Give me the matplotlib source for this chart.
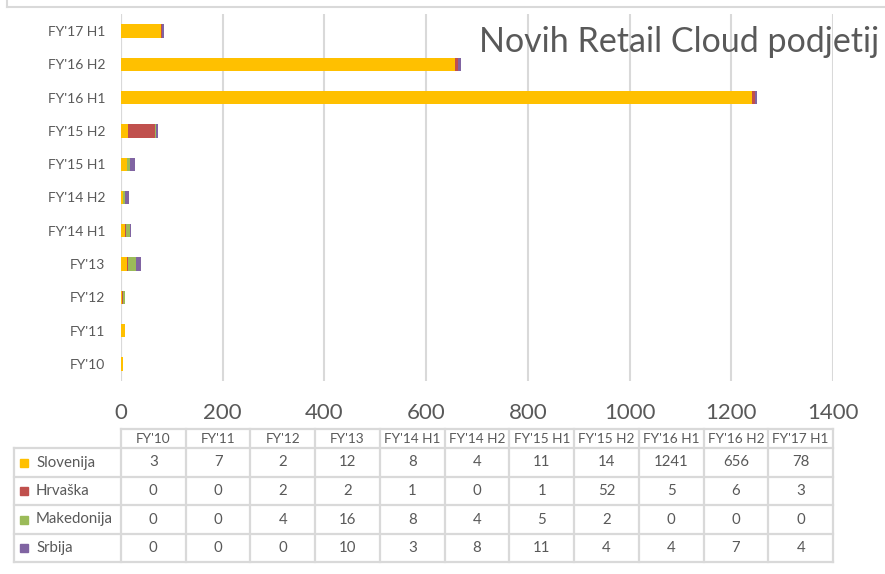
import matplotlib.pyplot as plt
import numpy as np
from matplotlib.patches import Rectangle
from matplotlib.lines import Line2D

plt.rcParams['font.family'] = ['Lato', 'DejaVu Sans']

periods = ["FY'10", "FY'11", "FY'12", "FY'13", "FY'14 H1", "FY'14 H2",
           "FY'15 H1", "FY'15 H2", "FY'16 H1", "FY'16 H2", "FY'17 H1"]
countries = ["Slovenija", "Hrvaška", "Makedonija", "Srbija"]
slovenija = [3, 7, 2, 12, 8, 4, 11, 14, 1241, 656, 78]
hrvaska = [0, 0, 2, 2, 1, 0, 1, 52, 5, 6, 3]
makedonija = [0, 0, 4, 16, 8, 4, 5, 2, 0, 0, 0]
srbija = [0, 0, 0, 10, 3, 8, 11, 4, 4, 7, 4]
colors = ["#FFC000", "#C0504D", "#9BBB59", "#8064A2"]
title = "Novih Retail Cloud podjetij"
xticks = [0, 200, 400, 600, 800, 1000, 1200, 1400]

W, H = 885, 574
txt = "#595959"
grid = "#D9D9D9"

fig = plt.figure(figsize=(W / 100, H / 100), dpi=100)

def px(x0, y0, x1, y1):
    return [x0 / W, 1 - y1 / H, (x1 - x0) / W, (y1 - y0) / H]

ax = fig.add_axes(px(121, 14.3, 833, 380.7))
series = [slovenija, hrvaska, makedonija, srbija]
ypos = np.arange(len(periods))
left = np.zeros(len(periods))
for name, vals, c in zip(countries, series, colors):
    ax.barh(ypos, vals, left=left, height=0.4, color=c, label=name, zorder=3)
    left += np.array(vals)

ax.set_xlim(0, 1400)
ax.set_ylim(-0.5, len(periods) - 0.5)
ax.set_xticks(xticks)
ax.set_xticklabels([str(t) for t in xticks], fontsize=16, color=txt)
ax.set_yticks(ypos)
ax.set_yticklabels(periods, fontsize=10, color=txt)
ax.tick_params(axis='both', length=0)
ax.tick_params(axis='x', pad=16)
ax.tick_params(axis='y', pad=11.5)
ax.xaxis.grid(True, color=grid, linewidth=1.5, zorder=0)
for s in ax.spines.values():
    s.set_visible(False)
ax.axvline(0, color=grid, linewidth=1.5, zorder=1)

fig.text(879 / W, 1 - 42 / H, title, fontsize=24.5, color=txt, ha='right', va='center')

# chart frame remnant at the top
fig.add_artist(Line2D([7 / W, 1], [1 - 7 / H, 1 - 7 / H], color=grid, linewidth=1.5))
fig.add_artist(Line2D([7 / W, 7 / W], [1, 1 - 7 / H], color=grid, linewidth=1.5))

# data table under the chart
tax = fig.add_axes([0, 0, 1, 1])
tax.set_xlim(0, W)
tax.set_ylim(H, 0)
tax.axis('off')

col_x = np.linspace(121, 833, len(periods) + 1)
row_y = [429, 448, 477, 505, 534, 562]
lw = 1.6
# header
tax.plot([col_x[0], col_x[-1]], [row_y[0], row_y[0]], color=grid, lw=lw)
for x in col_x:
    tax.plot([x, x], [row_y[0], row_y[-1]], color=grid, lw=lw)
tax.plot([14, 14], [row_y[1], row_y[-1]], color=grid, lw=lw)
for y in row_y[1:]:
    tax.plot([14, col_x[-1]], [y, y], color=grid, lw=lw)
for i, p in enumerate(periods):
    tax.text((col_x[i] + col_x[i + 1]) / 2, (row_y[0] + row_y[1]) / 2 + 0.5, p,
             fontsize=9.8, color=txt, ha='center', va='center')
for r, (name, vals, c) in enumerate(zip(countries, series, colors)):
    yc = (row_y[r + 1] + row_y[r + 2]) / 2
    tax.add_patch(Rectangle((20, yc - 4), 8, 8, color=c))
    tax.text(36, yc, name, fontsize=10.8, color=txt, ha='left', va='center')
    for i, v in enumerate(vals):
        tax.text((col_x[i] + col_x[i + 1]) / 2, yc, str(v), fontsize=10.8,
                 color=txt, ha='center', va='center')

fig.savefig("out.png", dpi=100)
